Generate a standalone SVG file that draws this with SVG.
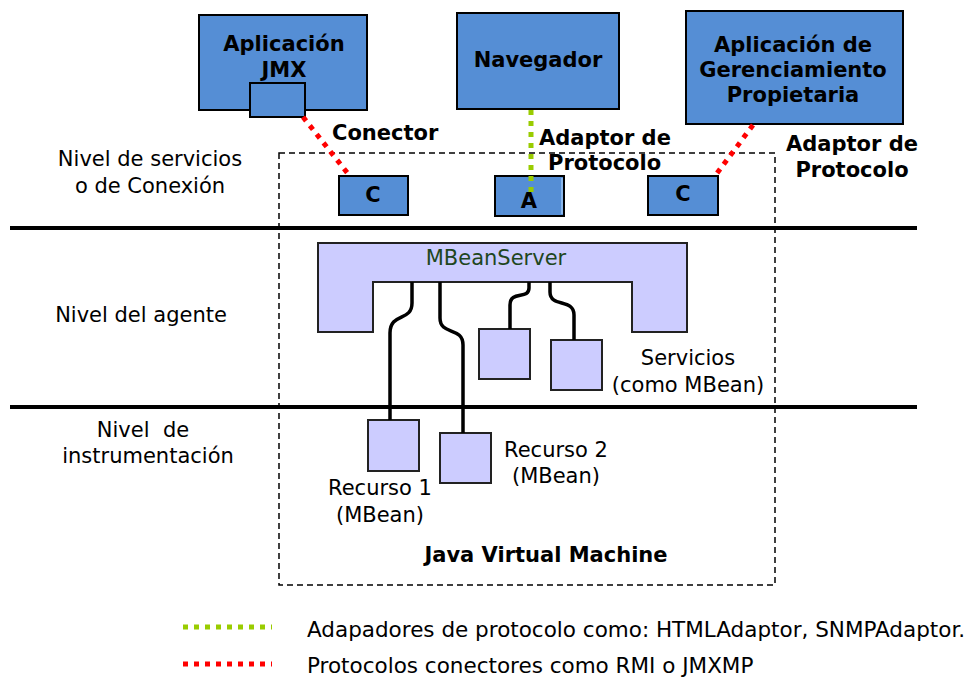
<svg xmlns="http://www.w3.org/2000/svg" width="970" height="678" viewBox="0 0 970 678">
<style>
text{font-family:"DejaVu Sans","Liberation Sans",sans-serif;font-size:21px;fill:#000}
.b{font-weight:bold}
.m{text-anchor:middle}
.lg{font-size:21.5px}
.blue{fill:#558ed5;stroke:#000;stroke-width:2}
.lav{fill:#ccccff;stroke:#222;stroke-width:2}
.wire{fill:none;stroke:#000;stroke-width:3.5}
.red{stroke:#ff0000;stroke-width:5;stroke-dasharray:5 6;fill:none}
.green{stroke:#99cc00;stroke-width:5;stroke-dasharray:5 6;fill:none}
</style>
<rect width="970" height="678" fill="#fff"/>

<g id="levels">
<line x1="10" y1="228" x2="917" y2="228" stroke="#000" stroke-width="4"/>
<line x1="10" y1="407" x2="917" y2="407" stroke="#000" stroke-width="4"/>
<text class="m" x="150" y="166">Nivel de servicios</text>
<text class="m" x="150" y="193">o de Conexión</text>
<text class="m" x="141" y="322">Nivel del agente</text>
<text class="m" x="143" y="437" xml:space="preserve">Nivel  de</text>
<text class="m" x="148" y="463">instrumentación</text>
</g>

<g id="jvm">
<rect x="279" y="153" width="496" height="432" fill="none" stroke="#000" stroke-width="1.5" stroke-dasharray="6 4"/>
<text class="b m" x="546" y="562">Java Virtual Machine</text>
</g>

<g id="app-jmx">
<rect class="blue" x="199" y="15" width="168" height="95"/>
<text class="b m" x="284" y="51">Aplicación</text>
<text class="b m" x="284" y="77">JMX</text>
<rect class="blue" x="250" y="83" width="55" height="34"/>
</g>

<g id="navegador">
<rect class="blue" x="457" y="13" width="162" height="96"/>
<text class="b m" x="538" y="67">Navegador</text>
</g>

<g id="app-propietaria">
<rect class="blue" x="686" y="11" width="217" height="113"/>
<text class="b m" x="793" y="52">Aplicación de</text>
<text class="b m" x="793" y="77">Gerenciamiento</text>
<text class="b m" x="793" y="102">Propietaria</text>
</g>

<g id="conector-c1">
<rect class="blue" x="339" y="176" width="69" height="39"/>
<text class="b m" x="373" y="202">C</text>
</g>

<g id="adaptor-a">
<rect class="blue" x="495" y="176" width="69" height="40"/>
<line x1="562" y1="178" x2="562" y2="214" stroke="#9cc3f0" stroke-width="1.5"/>
<text class="b m" x="529" y="208">A</text>
</g>

<g id="conector-c2">
<rect class="blue" x="648" y="176" width="70" height="39"/>
<text class="b m" x="683" y="201">C</text>
</g>

<g id="mbeanserver">
<path class="lav" d="M318,243 H687 V332 H632 V282 H373 V332 H318 Z"/>
<text class="m" x="496" y="265" style="fill:#1e4620">MBeanServer</text>
</g>

<g id="servicio1"><rect class="lav" x="479" y="329" width="51" height="50"/></g>
<g id="servicio2"><rect class="lav" x="551" y="340" width="51" height="50"/></g>
<g id="servicios-label">
<text class="m" x="688" y="365">Servicios</text>
<text class="m" x="688" y="392">(como MBean)</text>
</g>

<g id="recurso1">
<rect class="lav" x="368" y="420" width="51" height="51"/>
<text class="m" x="380" y="495">Recurso 1</text>
<text class="m" x="380" y="522">(MBean)</text>
</g>
<g id="recurso2">
<rect class="lav" x="440" y="433" width="51" height="50"/>
<text class="m" x="556" y="457">Recurso 2</text>
<text class="m" x="556" y="483">(MBean)</text>
</g>

<g id="connectors">
<path class="wire" d="M412,282 V303 C412,322 390,312 390,333 V420"/>
<path class="wire" d="M440,282 V318 C440,336 463,326 463,345 V433"/>
<path class="wire" d="M529,282 V288 C529,300 510,290 510,305 V329"/>
<path class="wire" d="M550,282 V292 C550,308 574,298 574,315 V340"/>
<line class="red" x1="303" y1="117" x2="349" y2="175"/>
<line class="red" x1="753" y1="125" x2="715" y2="176"/>
<line class="green" x1="531" y1="110" x2="531" y2="196"/>
<text class="b" x="332" y="140">Conector</text>
<text class="b" x="539" y="145">Adaptor de</text>
<text class="b" x="548" y="170">Protocolo</text>
<text class="b m" x="852" y="151">Adaptor de</text>
<text class="b m" x="852" y="177">Protocolo</text>
</g>

<g id="legend">
<line class="green" x1="183" y1="627" x2="272" y2="627"/>
<line class="red" x1="183" y1="664" x2="272" y2="664"/>
<text class="lg" x="307" y="637">Adapadores de protocolo como: HTMLAdaptor, SNMPAdaptor.</text>
<text class="lg" x="307" y="673">Protocolos conectores como RMI o JMXMP</text>
</g>
</svg>
